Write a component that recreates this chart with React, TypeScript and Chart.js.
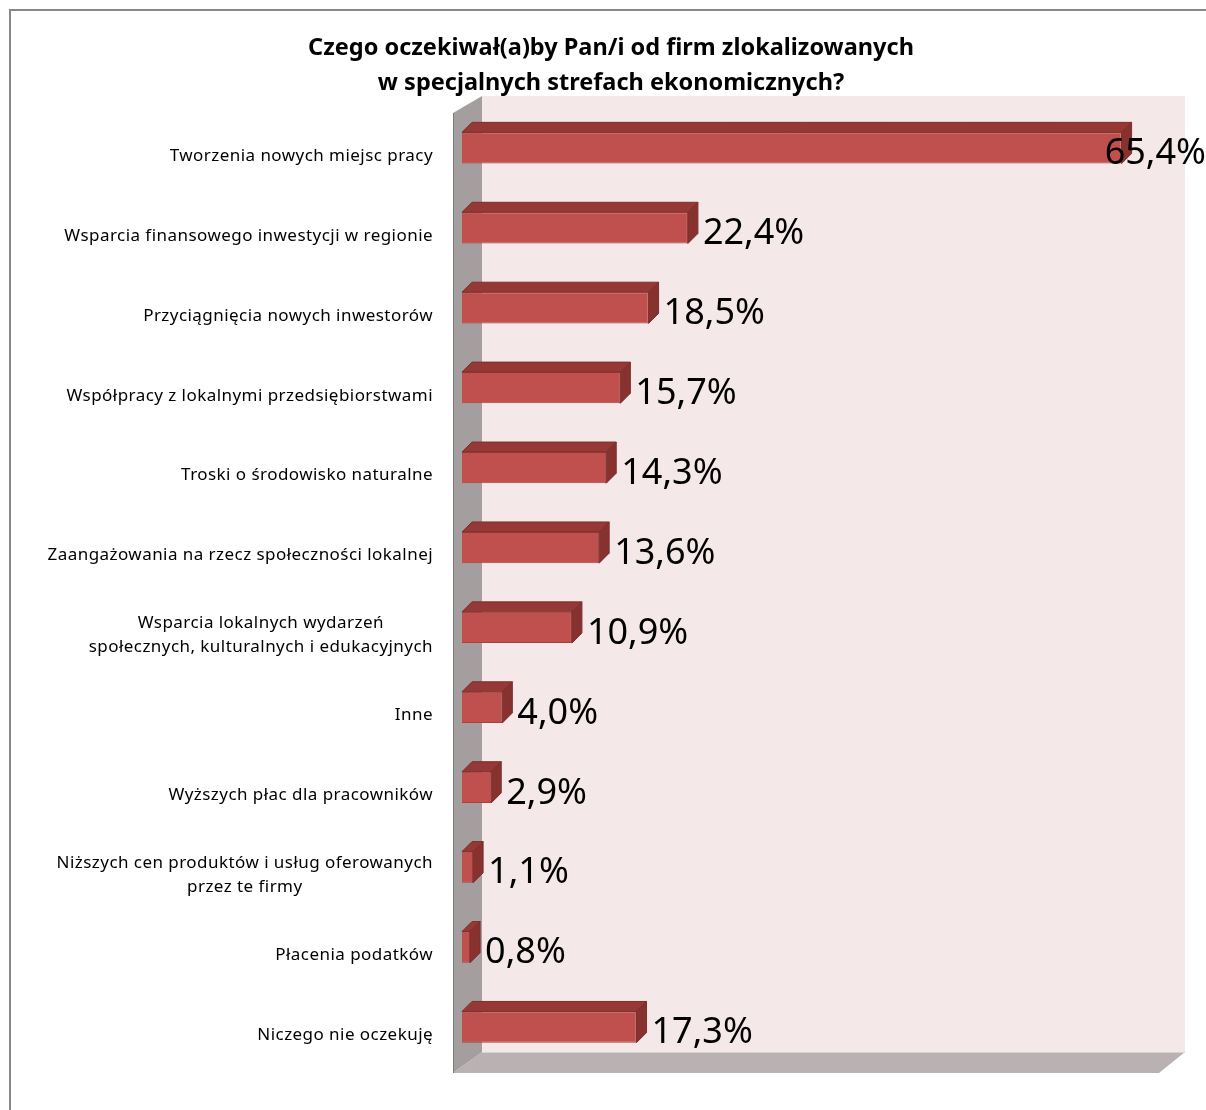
import React, { useEffect, useRef } from 'react';
import { Chart, registerables } from 'chart.js';

Chart.register(...registerables);

const TITLE_LINES: string[] = [
  'Czego oczekiwał(a)by Pan/i od firm zlokalizowanych',
  'w specjalnych strefach ekonomicznych?',
];

const CATEGORIES: (string | string[])[] = [
  'Tworzenia nowych miejsc pracy',
  'Wsparcia finansowego inwestycji w regionie',
  'Przyciągnięcia nowych inwestorów',
  'Współpracy z lokalnymi przedsiębiorstwami',
  'Troski o środowisko naturalne',
  'Zaangażowania na rzecz społeczności lokalnej',
  ['Wsparcia lokalnych wydarzeń', 'społecznych, kulturalnych i edukacyjnych'],
  'Inne',
  'Wyższych płac dla pracowników',
  ['Niższych cen produktów i usług oferowanych', 'przez te firmy'],
  'Płacenia podatków',
  'Niczego nie oczekuję',
];

const VALUES: number[] = [65.4, 22.4, 18.5, 15.7, 14.3, 13.6, 10.9, 4.0, 2.9, 1.1, 0.8, 17.3];

const X_MIN = 0;
const X_MAX = 70;

const W = 1206;
const H = 1110;

const fmt = (v: number) => v.toFixed(1).replace('.', ',') + '%';

const excel3d = {
  id: 'excel3d',
  beforeDraw(chart: any) {
    const { ctx } = chart;
    ctx.save();
    ctx.fillStyle = '#ffffff';
    ctx.fillRect(0, 0, W, H);
    ctx.fillStyle = '#878787';
    ctx.fillRect(9, 9, 2, H);
    ctx.fillRect(9, 9, W, 2);
    // title
    ctx.fillStyle = '#000000';
    ctx.font = 'bold 23.5px "Noto Sans"';
    ctx.textAlign = 'center';
    ctx.textBaseline = 'middle';
    ctx.fillText(TITLE_LINES[0], 611, 48);
    ctx.fillText(TITLE_LINES[1], 611, 83);
    ctx.restore();
  },
  beforeDatasetsDraw(chart: any) {
    const { ctx, chartArea: a } = chart;
    const L = a.left, R = a.right, T = a.top, B = a.bottom;
    const fx = L - 9, bx = L + 20;
    const fTop = T + 5, bTop = T - 12, fBot = B + 6, bBot = B - 15;
    const bRight = R + 17, fRight = R - 9;
    ctx.save();
    // back wall
    ctx.fillStyle = '#f5e8e8';
    ctx.fillRect(bx, bTop, bRight - bx, bBot - bTop);
    // floor
    ctx.fillStyle = '#bab2b2';
    ctx.beginPath();
    ctx.moveTo(fx, fBot);
    ctx.lineTo(bx, bBot);
    ctx.lineTo(bRight, bBot);
    ctx.lineTo(fRight, fBot);
    ctx.closePath();
    ctx.fill();
    ctx.strokeStyle = '#d9d2d2';
    ctx.lineWidth = 1;
    ctx.beginPath();
    ctx.moveTo(bx, bBot + 0.5);
    ctx.lineTo(bRight, bBot + 0.5);
    ctx.stroke();
    // left wall
    ctx.fillStyle = '#a49e9e';
    ctx.beginPath();
    ctx.moveTo(fx, fTop);
    ctx.lineTo(bx, bTop);
    ctx.lineTo(bx, bBot);
    ctx.lineTo(fx, fBot);
    ctx.closePath();
    ctx.fill();
    ctx.strokeStyle = '#7f7a7a';
    ctx.beginPath();
    ctx.moveTo(fx + 0.5, fTop);
    ctx.lineTo(fx + 0.5, fBot);
    ctx.stroke();
    ctx.restore();
  },
  afterDatasetsDraw(chart: any) {
    const { ctx, chartArea: a } = chart;
    const meta = chart.getDatasetMeta(0);
    const dx = 10, dy = 10;
    ctx.save();
    meta.data.forEach((bar: any, i: number) => {
      const { x, y, base, height } = bar.getProps(['x', 'y', 'base', 'height'], true);
      const yTop = y - height / 2;
      const yBot = y + height / 2;
      // top face
      ctx.fillStyle = '#963836';
      ctx.strokeStyle = '#7e2e2c';
      ctx.lineWidth = 1;
      ctx.beginPath();
      ctx.moveTo(base, yTop);
      ctx.lineTo(base + dx, yTop - dy);
      ctx.lineTo(x + dx, yTop - dy);
      ctx.lineTo(x, yTop);
      ctx.closePath();
      ctx.fill();
      ctx.stroke();
      // side face
      ctx.fillStyle = '#87322f';
      ctx.beginPath();
      ctx.moveTo(x, yTop);
      ctx.lineTo(x + dx, yTop - dy);
      ctx.lineTo(x + dx, yBot - dy);
      ctx.lineTo(x, yBot);
      ctx.closePath();
      ctx.fill();
      ctx.stroke();
      // value label
      ctx.fillStyle = '#000000';
      ctx.font = '36px "Noto Sans"';
      ctx.textAlign = 'left';
      ctx.textBaseline = 'middle';
      const txt = fmt(VALUES[i]);
      const tw = ctx.measureText(txt).width;
      let lx = x + dx + 5;
      if (lx + tw > W) lx = W - tw;
      ctx.fillText(txt, lx, y + 6);
    });
    // category labels
    const yScale = chart.scales.y;
    ctx.font = '17px "Noto Sans"';
    try { (ctx as any).letterSpacing = '0.45px'; } catch (e) { /* ignore */ }
    ctx.fillStyle = '#000000';
    ctx.textBaseline = 'middle';
    ctx.textAlign = 'left';
    const rightEdge = a.left - 29;
    CATEGORIES.forEach((lab, i) => {
      const lines = Array.isArray(lab) ? lab : [lab];
      const cy = yScale.getPixelForValue(i) + 8;
      const widths = lines.map((l) => ctx.measureText(l).width);
      const bw = Math.max(...widths);
      const cx = rightEdge - bw / 2;
      const lh = 24;
      lines.forEach((l, k) => {
        ctx.fillText(l, cx - widths[k] / 2, cy + (k - (lines.length - 1) / 2) * lh);
      });
    });
    ctx.restore();
  },
};

export default function App() {
  const ref = useRef<HTMLCanvasElement | null>(null);
  useEffect(() => {
    document.body.style.margin = '0';
    document.body.style.overflow = 'hidden';
    const canvas = ref.current;
    if (!canvas) return;
    const chart = new Chart(canvas, {
      type: 'bar',
      data: {
        labels: CATEGORIES as any,
        datasets: [
          {
            data: VALUES,
            backgroundColor: '#c0504d',
            borderColor: '#a9403d',
            borderWidth: 1,
            categoryPercentage: 1,
            barPercentage: 0.39,
          },
        ],
      },
      options: {
        indexAxis: 'y',
        responsive: false,
        animation: false,
        devicePixelRatio: 1,
        layout: { padding: { left: 462, right: W - 1168, top: 108, bottom: H - 1067 } },
        scales: {
          x: { display: false, min: X_MIN, max: X_MAX },
          y: { display: false },
        },
        plugins: {
          legend: { display: false },
          tooltip: { enabled: false },
          title: { display: false },
        },
      },
      plugins: [excel3d],
    });
    return () => chart.destroy();
  }, []);
  return (
    <div style={{ width: W, height: H }}>
      <canvas ref={ref} width={W} height={H} style={{ display: 'block' }} />
    </div>
  );
}
